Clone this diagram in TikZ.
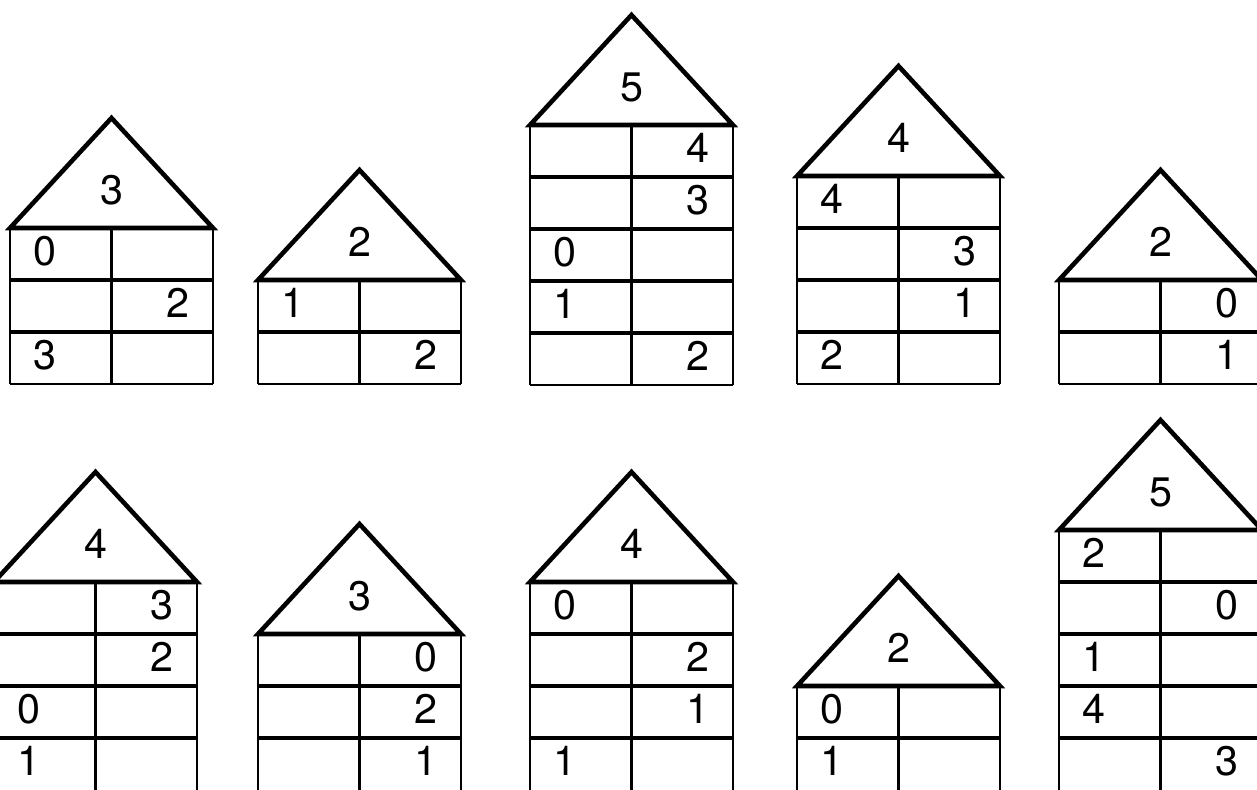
\documentclass[tikz,border=0pt]{standalone}
\usepackage{fontspec}
\setmainfont{TeX Gyre Heros}
\usetikzlibrary{positioning}

% cell centres, measured from the left wall
\newcommand{\lcol}{35}
\newcommand{\rcol}{168}
% #1 name, #2 left wall, #3 roof base, #4 rows, #5 roof number, #6 cells
\newcommand{\numhouse}[6]{%
 \begin{scope}[shift={(#2,#3)}]
  \draw[roof] (0,0) -- (101.5,-110) -- (203,0) -- cycle;
  \node[roofnum] (#1-top) at (101.5,-38) {#5};
  \draw[wall] (0,0) -- (0,#4*52) (101.5,0) -- (101.5,#4*52) (203,0) -- (203,#4*52);
  \pgfmathtruncatemacro{\lastrow}{#4-1}
  \foreach \r in {1,...,\lastrow} \draw[rowline] (0,\r*52) -- (203,\r*52);
  \draw[floor] (0,#4*52) -- (203,#4*52);
  \foreach \s/\d [count=\i] in {#6}
   \node[cellnum] (#1-\i) at ({\s},{(\i-1)*52+23}) {\d};
 \end{scope}}

\begin{document}
\begin{tikzpicture}[
 x=0.02cm,y=-0.02cm,
 roof/.style={line width=2.6pt,line join=miter},
 wall/.style={line width=1.2pt},
 floor/.style={line width=1.2pt,draw},
 rowline/.style={line width=2pt},
 roofnum/.style={font=\fontsize{23.5pt}{24pt}\selectfont,inner sep=0pt},
 cellnum/.style={font=\fontsize{23.5pt}{24pt}\selectfont,inner sep=0pt}
]
\useasboundingbox (0,0) rectangle (1257,789);
\clip (0,0) rectangle (1257,789);
% top row
\numhouse{a}{10}{228}{3}{3}{\lcol/0,\rcol/2,\lcol/3}
\numhouse{b}{258}{280}{2}{2}{\lcol/1,\rcol/2}
\numhouse{c}{530}{125}{5}{5}{\rcol/4,\rcol/3,\lcol/0,\lcol/1,\rcol/2}
\numhouse{d}{797}{176}{4}{4}{\lcol/4,\rcol/3,\rcol/1,\lcol/2}
\numhouse{e}{1059}{280}{2}{2}{\rcol/0,\rcol/1}
% bottom row, cut off at the page edge
\begin{scope}[floor/.style={draw=none}]
\numhouse{f}{-6}{582}{4}{4}{\rcol/3,\rcol/2,\lcol/0,\lcol/1}
\numhouse{g}{258}{634}{3}{3}{\rcol/0,\rcol/2,\rcol/1}
\numhouse{h}{530}{582}{4}{4}{\lcol/0,\rcol/2,\rcol/1,\lcol/1}
\numhouse{i}{797}{686}{2}{2}{\lcol/0,\lcol/1}
\numhouse{j}{1059}{530}{5}{5}{\lcol/2,\rcol/0,\lcol/1,\lcol/4,\rcol/3}
\end{scope}
\end{tikzpicture}
\end{document}
